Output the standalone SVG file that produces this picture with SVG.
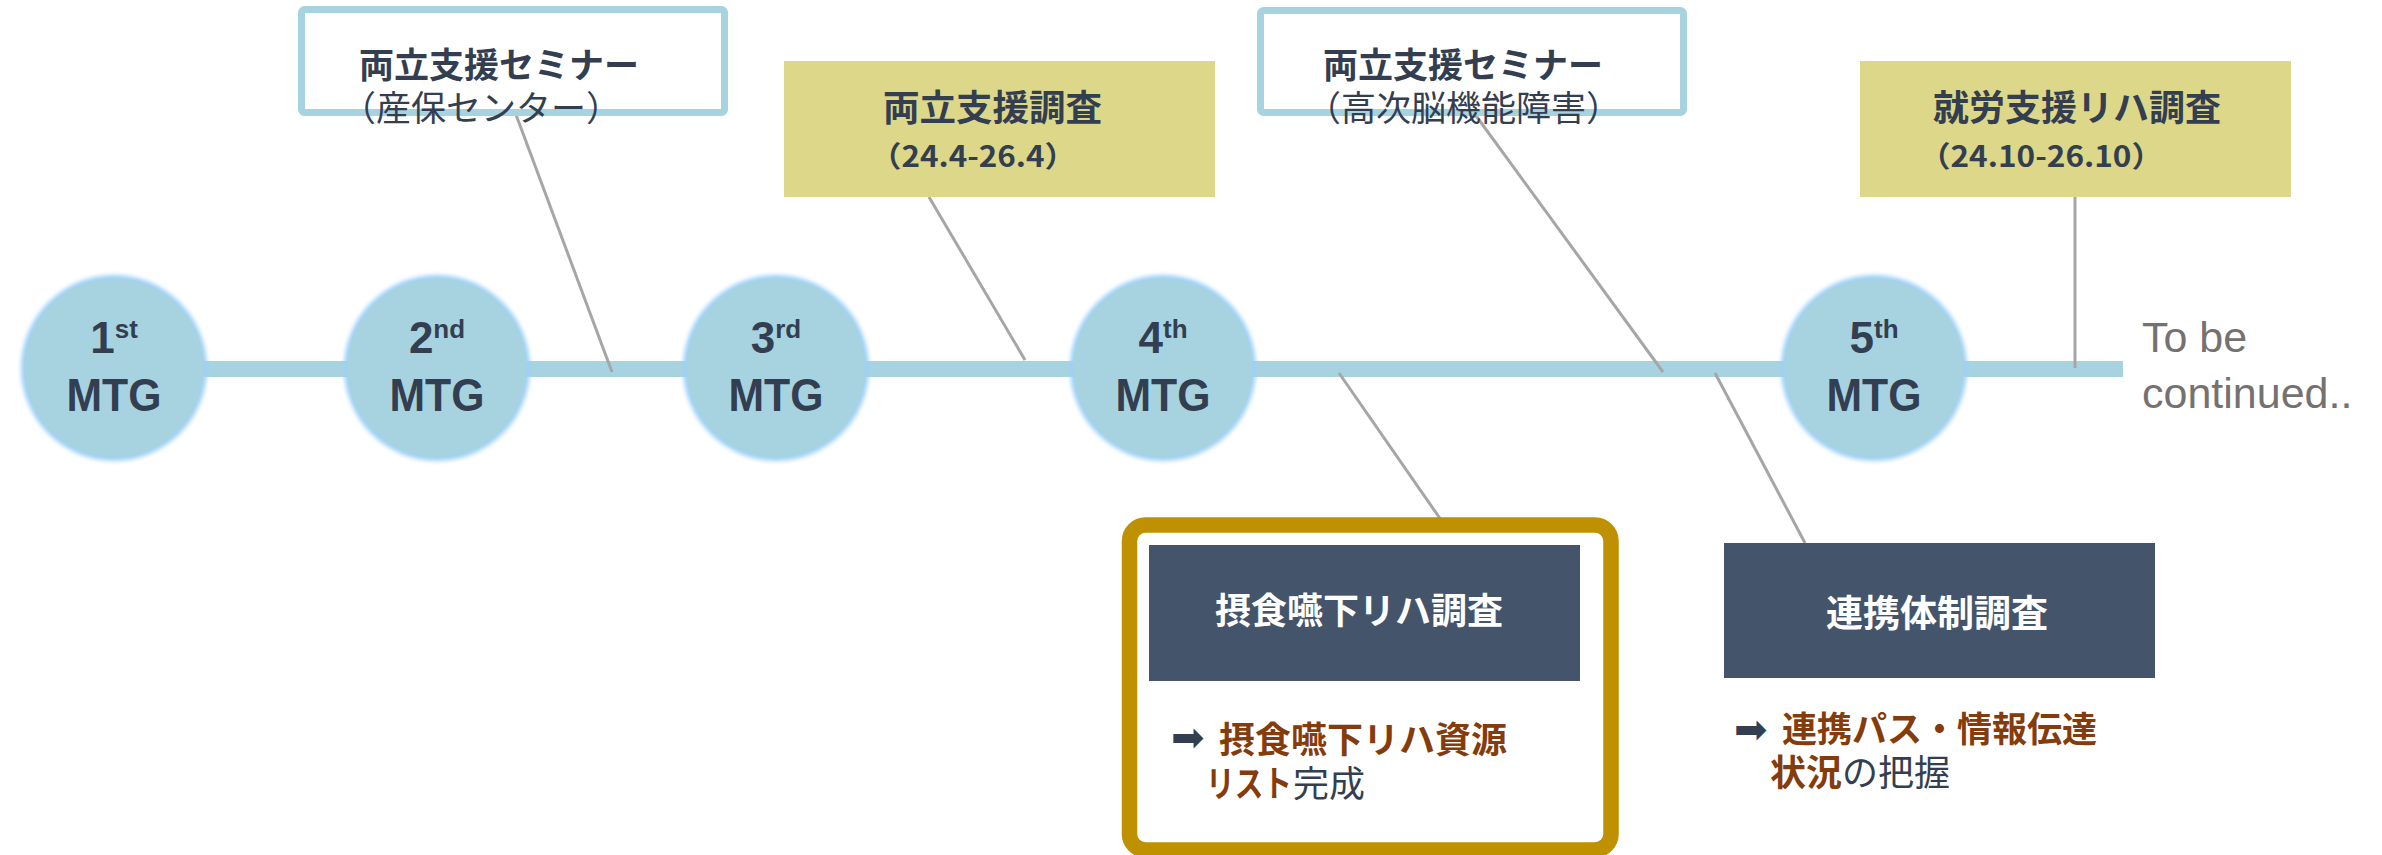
<svg xmlns="http://www.w3.org/2000/svg" width="2382" height="855" viewBox="0 0 2382 855">
<defs>
<filter id="glow" x="-20%" y="-20%" width="140%" height="140%"><feGaussianBlur stdDeviation="2.2"/></filter>
<style>
.jp{font-family:'Noto Sans CJK JP','Noto Sans CJK SC',sans-serif;}
.b{font-weight:700}
.n{font-weight:400}
.dk{fill:#333F50}
.br{fill:#843C0C}
.wh{fill:#FFFFFF}
.sem{fill:#FFFFFF;stroke:#A7D3E0;stroke-width:7}
.yel{fill:#DDD78A}
.navy{fill:#44546A}
.conn{stroke:#A6A6A6;stroke-width:3;fill:none}
.bar{fill:#A7D3E0}
.halo{fill:#9ED0F7;filter:url(#glow)}
.disc{fill:#A7D3E0}
.en{font-family:'Liberation Sans',Arial,sans-serif;font-weight:700;fill:#333F50}
.arrow{font-family:'DejaVu Sans',sans-serif;fill:#333F50}
.tbc{font-family:'Liberation Sans',Arial,sans-serif;font-size:43px;fill:#767171}
</style>
</defs>
<rect width="2382" height="855" fill="#FFFFFF"/>

<g id="connectors">
  <rect class="bar" x="114" y="361" width="2009" height="16"/>
  <line class="conn" x1="515" y1="112" x2="612" y2="372"/>
  <line class="conn" x1="929" y1="197" x2="1025" y2="360"/>
  <line class="conn" x1="1474" y1="113" x2="1663" y2="372"/>
  <line class="conn" x1="1339" y1="373" x2="1457" y2="543"/>
  <line class="conn" x1="1715" y1="373" x2="1805" y2="543"/>
  <line class="conn" x1="2075" y1="197" x2="2075" y2="368"/>
</g>

<g id="seminar1">
  <rect class="sem" x="301.5" y="9.5" width="423" height="103" rx="3"/>
  <text class="jp b dk" x="359" y="78" font-size="35">両立支援セミナー</text>
  <text class="jp n dk" x="341" y="121" font-size="35">（産保センター）</text>
</g>

<g id="survey1">
  <rect class="yel" x="784" y="61" width="431" height="136"/>
  <text class="jp b dk" x="883" y="121" font-size="36.5">両立支援調査</text>
  <text class="jp b dk" x="870" y="167" font-size="29" textLength="206" lengthAdjust="spacingAndGlyphs">（24.4-26.4）</text>
</g>

<g id="seminar2">
  <rect class="sem" x="1260.5" y="10.5" width="423" height="102" rx="3"/>
  <text class="jp b dk" x="1323" y="78" font-size="35">両立支援セミナー</text>
  <text class="jp n dk" x="1306" y="121" font-size="35">（高次脳機能障害）</text>
</g>

<g id="survey2">
  <rect class="yel" x="1860" y="61" width="431" height="136"/>
  <text class="jp b dk" x="1933" y="121" font-size="36">就労支援リハ調査</text>
  <text class="jp b dk" x="1919" y="167" font-size="29" textLength="244" lengthAdjust="spacingAndGlyphs">（24.10-26.10）</text>
</g>

<g id="mtg1">
  <circle class="halo" cx="114" cy="368" r="93"/>
  <circle class="disc" cx="114" cy="368" r="89.5"/>
  <text class="en" x="114" y="353" font-size="44" text-anchor="middle">1<tspan font-size="26" dy="-15">st</tspan></text>
  <text class="en" x="114" y="411" font-size="46" text-anchor="middle" textLength="95" lengthAdjust="spacingAndGlyphs">MTG</text>
</g>

<g id="mtg2">
  <circle class="halo" cx="437" cy="368" r="93"/>
  <circle class="disc" cx="437" cy="368" r="89.5"/>
  <text class="en" x="437" y="353" font-size="44" text-anchor="middle">2<tspan font-size="26" dy="-15">nd</tspan></text>
  <text class="en" x="437" y="411" font-size="46" text-anchor="middle" textLength="95" lengthAdjust="spacingAndGlyphs">MTG</text>
</g>

<g id="mtg3">
  <circle class="halo" cx="776" cy="368" r="93"/>
  <circle class="disc" cx="776" cy="368" r="89.5"/>
  <text class="en" x="776" y="353" font-size="44" text-anchor="middle">3<tspan font-size="26" dy="-15">rd</tspan></text>
  <text class="en" x="776" y="411" font-size="46" text-anchor="middle" textLength="95" lengthAdjust="spacingAndGlyphs">MTG</text>
</g>

<g id="mtg4">
  <circle class="halo" cx="1163" cy="368" r="93"/>
  <circle class="disc" cx="1163" cy="368" r="89.5"/>
  <text class="en" x="1163" y="353" font-size="44" text-anchor="middle">4<tspan font-size="26" dy="-15">th</tspan></text>
  <text class="en" x="1163" y="411" font-size="46" text-anchor="middle" textLength="95" lengthAdjust="spacingAndGlyphs">MTG</text>
</g>

<g id="mtg5">
  <circle class="halo" cx="1874" cy="368" r="93"/>
  <circle class="disc" cx="1874" cy="368" r="89.5"/>
  <text class="en" x="1874" y="353" font-size="44" text-anchor="middle">5<tspan font-size="26" dy="-15">th</tspan></text>
  <text class="en" x="1874" y="411" font-size="46" text-anchor="middle" textLength="95" lengthAdjust="spacingAndGlyphs">MTG</text>
</g>

<g id="to-be-continued">
  <text class="tbc" x="2142" y="352">To be</text>
  <text class="tbc" x="2142" y="408">continued..</text>
</g>

<g id="swallowing-survey">
  <rect x="1129.5" y="525" width="481.5" height="325" rx="16" fill="#FFFFFF" stroke="#BF9000" stroke-width="15.5"/>
  <rect class="navy" x="1149" y="545" width="431" height="136"/>
  <text class="jp b wh" x="1215" y="624" font-size="36">摂食嚥下リハ調査</text>
  <text class="arrow" x="1171" y="751" font-size="40">➡</text>
  <text class="jp b br" x="1219" y="753" font-size="36">摂食嚥下リハ資源</text>
  <text class="jp b br" x="1206" y="797" font-size="36" textLength="86" lengthAdjust="spacingAndGlyphs">リスト</text>
  <text class="jp n dk" x="1293" y="797" font-size="36">完成</text>
</g>

<g id="cooperation-survey">
  <rect class="navy" x="1724" y="543" width="431" height="135"/>
  <text class="jp b wh" x="1826" y="627" font-size="37">連携体制調査</text>
  <text class="arrow" x="1734" y="743" font-size="40">➡</text>
  <text class="jp b br" x="1782" y="742" font-size="35">連携パス・情報伝達</text>
  <text class="jp" y="786" font-size="36"><tspan class="b br" x="1770">状況</tspan><tspan class="n dk">の把握</tspan></text>
</g>
</svg>
